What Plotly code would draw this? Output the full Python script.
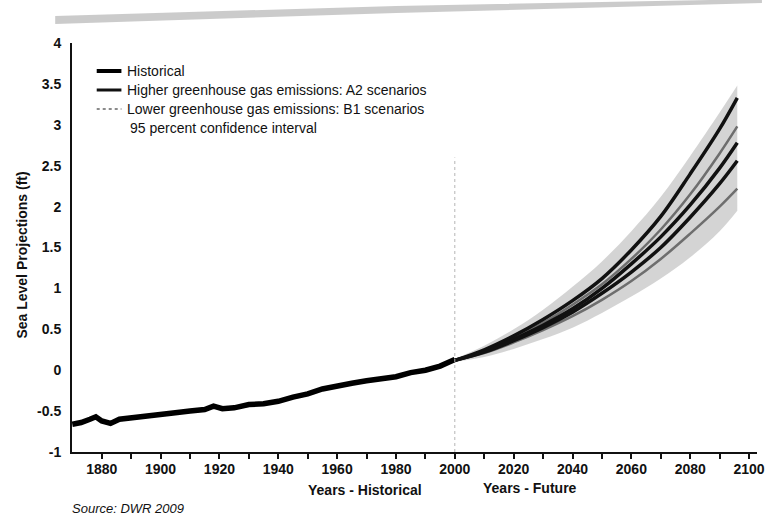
import plotly.graph_objects as go

# ---------------- data ----------------
hist_years = [1870, 1873, 1876, 1878, 1880, 1883, 1886, 1890, 1895, 1900, 1905, 1910,
              1915, 1918, 1921, 1925, 1930, 1935, 1940, 1945, 1950, 1955, 1960, 1965,
              1970, 1975, 1980, 1985, 1990, 1995, 2000]
hist_vals = [-0.66, -0.64, -0.60, -0.57, -0.62, -0.65, -0.60, -0.58, -0.56, -0.53, -0.52, -0.50,
             -0.48, -0.44, -0.47, -0.46, -0.42, -0.41, -0.38, -0.33, -0.29, -0.23, -0.19, -0.16,
             -0.13, -0.11, -0.08, -0.03, 0.00, 0.05, 0.13]

fut_years = [2000, 2010, 2020, 2030, 2040, 2050, 2060, 2070, 2080, 2090, 2096]
a2_high = [0.12, 0.25, 0.42, 0.62, 0.85, 1.12, 1.47, 1.88, 2.40, 2.95, 3.33]
a2_mid = [0.12, 0.23, 0.38, 0.55, 0.75, 1.00, 1.30, 1.63, 2.02, 2.47, 2.78]
a2_low = [0.12, 0.22, 0.36, 0.52, 0.71, 0.94, 1.20, 1.50, 1.87, 2.28, 2.56]
b1_high = [0.12, 0.24, 0.40, 0.58, 0.80, 1.05, 1.36, 1.72, 2.15, 2.65, 2.98]
b1_low = [0.12, 0.21, 0.34, 0.49, 0.66, 0.86, 1.09, 1.36, 1.67, 2.00, 2.22]
ci_low = [0.10, 0.16, 0.26, 0.38, 0.52, 0.70, 0.90, 1.12, 1.38, 1.70, 1.95]
ci_high = [0.14, 0.30, 0.50, 0.74, 1.02, 1.33, 1.70, 2.12, 2.62, 3.15, 3.48]

x_tickvals = list(range(1880, 2101, 10))
x_ticktext = [str(v) if v % 20 == 0 else "" for v in x_tickvals]
y_tickvals = [-1, -0.5, 0, 0.5, 1, 1.5, 2, 2.5, 3, 3.5, 4]
y_ticktext = ["-1", "-0.5", "0", "0.5", "1", "1.5", "2", "2.5", "3", "3.5", "4"]

legend_labels = ["Historical",
                 "Higher greenhouse gas emissions: A2 scenarios",
                 "Lower greenhouse gas emissions: B1 scenarios",
                 "95 percent confidence interval"]

# ---------------- geometry ----------------
W, H = 773, 520
L, R, T, B = 72, 8, 43, 68
PW, PH = W - L - R, H - T - B


def px(x):
    return (x - L) / PW


def py(y):
    return (H - B - y) / PH


FONT = "Arial, Liberation Sans, sans-serif"

fig = go.Figure()

# confidence band
fig.add_trace(go.Scatter(x=fut_years, y=ci_low, mode="lines", line=dict(width=0),
                         line_shape="spline", hoverinfo="skip", showlegend=False))
fig.add_trace(go.Scatter(x=fut_years, y=ci_high, mode="lines", line=dict(width=0),
                         line_shape="spline", fill="tonexty", fillcolor="rgba(160,160,160,0.45)",
                         name=legend_labels[3], showlegend=False))

# B1 scenarios
for vals in (b1_high, b1_low):
    fig.add_trace(go.Scatter(x=fut_years, y=vals, mode="lines", line_shape="spline",
                             line=dict(color="#6e6e6e", width=2.5),
                             name=legend_labels[2], showlegend=False))
# A2 scenarios
for vals in (a2_high, a2_mid, a2_low):
    fig.add_trace(go.Scatter(x=fut_years, y=vals, mode="lines", line_shape="spline",
                             line=dict(color="#111111", width=3.5),
                             name=legend_labels[1], showlegend=False))
# historical
fig.add_trace(go.Scatter(x=hist_years, y=hist_vals, mode="lines",
                         line=dict(color="#000000", width=5.5),
                         name=legend_labels[0], showlegend=False))

shapes = []
# divider at 2000
shapes.append(dict(type="line", xref="x", yref="paper", x0=2000, x1=2000, y0=0, y1=0.72,
                   line=dict(color="#b5b5b5", width=1, dash="dot")))
# scan smudge along top edge
shapes.append(dict(type="path", xref="paper", yref="paper",
                   path=f"M {px(55)} {py(24)} L {px(400)} {py(13)} L {px(770)} {py(3)} "
                        f"L {px(770)} {py(-1)} L {px(400)} {py(6)} L {px(55)} {py(16)} Z",
                   fillcolor="rgba(140,140,140,0.45)", line=dict(width=0), layer="above"))

# legend samples
leg_rows = [71, 90, 109, 128]
shapes.append(dict(type="line", xref="paper", yref="paper", x0=px(97), x1=px(122),
                   y0=py(leg_rows[0]), y1=py(leg_rows[0]), line=dict(color="#000", width=4)))
shapes.append(dict(type="line", xref="paper", yref="paper", x0=px(97), x1=px(122),
                   y0=py(leg_rows[1]), y1=py(leg_rows[1]), line=dict(color="#111", width=3)))
shapes.append(dict(type="line", xref="paper", yref="paper", x0=px(97), x1=px(122),
                   y0=py(leg_rows[2]), y1=py(leg_rows[2]), line=dict(color="#666", width=1.5, dash="dot")))

annotations = []
for i, lab in enumerate(legend_labels):
    annotations.append(dict(xref="paper", yref="paper", x=px(126 if i < 3 else 129), y=py(leg_rows[i]),
                            xanchor="left", yanchor="middle", showarrow=False, text=lab,
                            font=dict(family=FONT, size=14, color="#111")))

annotations += [
    dict(xref="paper", yref="paper", x=px(368), y=py(490), text="Years - Historical",
         showarrow=False, xanchor="center", yanchor="middle",
         font=dict(family=FONT, size=14, color="#111", weight="bold")),
    dict(xref="paper", yref="paper", x=px(535), y=py(488), text="Years - Future",
         showarrow=False, xanchor="center", yanchor="middle",
         font=dict(family=FONT, size=14, color="#111", weight="bold")),
    dict(xref="paper", yref="paper", x=px(70), y=py(508), text="<i>Source: DWR 2009</i>",
         showarrow=False, xanchor="left", yanchor="middle",
         font=dict(family=FONT, size=13, color="#111")),
    dict(xref="paper", yref="paper", x=px(21), y=py(255), text="Sea Level Projections (ft)",
         textangle=-90, showarrow=False, xanchor="center", yanchor="middle",
         font=dict(family=FONT, size=14, color="#111", weight="bold")),
]

fig.update_layout(
    width=W, height=H,
    margin=dict(l=L, r=R, t=T, b=B),
    paper_bgcolor="white", plot_bgcolor="white",
    showlegend=False,
    shapes=shapes, annotations=annotations,
    font=dict(family=FONT, color="#111"),
)
fig.update_xaxes(range=[1869.9, 2102.7], tickvals=x_tickvals, ticktext=x_ticktext,
                 ticks="outside", ticklen=5, tickwidth=2, tickcolor="#111",
                 ticklabelstandoff=-2,
                 showline=True, linecolor="#111", linewidth=2, showgrid=False, zeroline=False,
                 tickfont=dict(family=FONT, size=14, color="#111", weight="bold"))
fig.update_yaxes(range=[-1, 4], tickvals=y_tickvals, ticktext=y_ticktext,
                 ticks="", showline=True, linecolor="#111", linewidth=2,
                 showgrid=False, zeroline=False, ticklabelstandoff=6,
                 tickfont=dict(family=FONT, size=14, color="#111", weight="bold"))

fig.write_html("out.html")
